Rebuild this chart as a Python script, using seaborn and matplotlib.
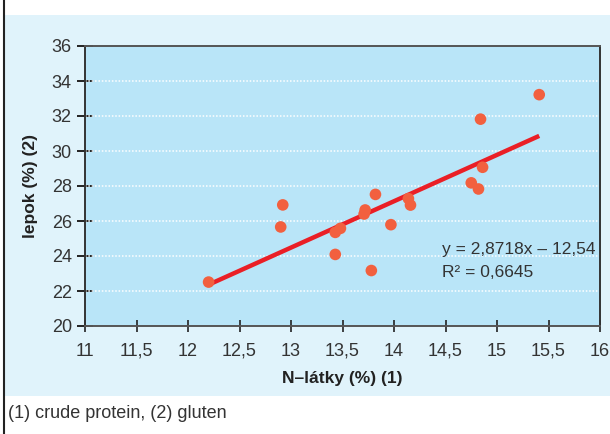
import matplotlib
matplotlib.use("Agg")
import matplotlib.pyplot as plt
import seaborn as sns
import pandas as pd
from matplotlib.patches import Rectangle
from matplotlib.lines import Line2D

# ---- data ----
protein = [12.20, 12.90, 12.92, 13.43, 13.43, 13.48, 13.72, 13.71, 13.82, 13.78,
           13.97, 14.14, 14.16, 14.75, 14.82, 14.86, 14.84, 15.41]
gluten = [22.51, 25.66, 26.92, 24.09, 25.35, 25.58, 26.63, 26.40, 27.52, 23.17,
          25.79, 27.28, 26.91, 28.18, 27.83, 29.07, 31.82, 33.22]
x_ticks = [11, 11.5, 12, 12.5, 13, 13.5, 14, 14.5, 15, 15.5, 16]
x_tick_labels = ["11", "11,5", "12", "12,5", "13", "13,5", "14", "14,5", "15", "15,5", "16"]
y_ticks = [20, 22, 24, 26, 28, 30, 32, 34, 36]
x_label = "N\u2013látky (%) (1)"
y_label = "lepok (%) (2)"
equation = "y = 2,8718x \u2013 12,54"
r_squared = "R\u00b2 = 0,6645"
caption = "(1) crude protein, (2) gluten"

df = pd.DataFrame({"protein": protein, "gluten": gluten})

sns.set_theme(style="white")
plt.rcParams["font.family"] = ["Liberation Sans Narrow", "DejaVu Sans Condensed",
                               "Liberation Sans", "DejaVu Sans"]

W, H = 610, 434
fig = plt.figure(figsize=(W / 100, H / 100), dpi=100, facecolor="white")

# light blue panel + left border line
fig.patches.append(Rectangle((4 / W, (H - 396) / H), (W - 4) / W, (396 - 15) / H,
                             transform=fig.transFigure, facecolor="#e0f3fb",
                             edgecolor="none", zorder=-10))
fig.lines.append(Line2D([3.5 / W, 3.5 / W], [0, 1], transform=fig.transFigure,
                        color="#222222", linewidth=1.5, zorder=-5))

ax = fig.add_axes([85 / W, (H - 326) / H, (600 - 85) / W, (326 - 46) / H])
ax.set_zorder(1)
ax.set_facecolor("#b9e5f8")

sns.regplot(data=df, x="protein", y="gluten", ax=ax, scatter=False, ci=None,
            truncate=True, line_kws={"color": "#ea1f26", "linewidth": 3.2,
                                     "solid_capstyle": "butt", "zorder": 3})
sns.scatterplot(data=df, x="protein", y="gluten", ax=ax, color="#f2603f",
                s=70, edgecolor="none", linewidth=0, zorder=4)

ax.set_xlim(11, 16)
ax.set_ylim(20, 36)
ax.set_xticks(x_ticks)
ax.set_xticklabels(x_tick_labels)
ax.set_yticks(y_ticks)

for yv in y_ticks[1:-1]:
    ax.axhline(yv, color="white", linewidth=1.1, linestyle=(0, (1, 1.2)), zorder=1)

for s in ["left", "right"]:
    ax.spines[s].set_visible(True)
    ax.spines[s].set_color("#333333")
    ax.spines[s].set_linewidth(1.4)
for s in ["top", "bottom"]:
    ax.spines[s].set_visible(True)
    ax.spines[s].set_color("#555555")
    ax.spines[s].set_linewidth(1.4)
    ax.spines[s].set_linestyle((0, (1, 1)))

ax.tick_params(axis="y", direction="inout", length=11, width=1.4, color="#222222",
               labelsize=13, labelcolor="#333333", pad=4, left=True)
ax.tick_params(axis="x", direction="inout", length=8, width=1.2, color="#222222",
               labelsize=13, labelcolor="#333333", pad=8, bottom=True)

ax.set_xlabel(x_label, fontsize=12.5, fontweight="bold", color="#222222", labelpad=8)
ax.set_ylabel(y_label, fontsize=12.5, fontweight="bold", color="#222222", labelpad=10)

ax.text(14.47, 24.35, equation, fontsize=12.5, color="#333333", va="center", ha="left")
ax.text(14.47, 23.05, r_squared, fontsize=12.5, color="#333333", va="center", ha="left")

fig.text(8 / W, (H - 413) / H, caption, fontsize=13, color="#333333",
         va="center", ha="left")

fig.savefig("out.png", dpi=100, facecolor="white")
